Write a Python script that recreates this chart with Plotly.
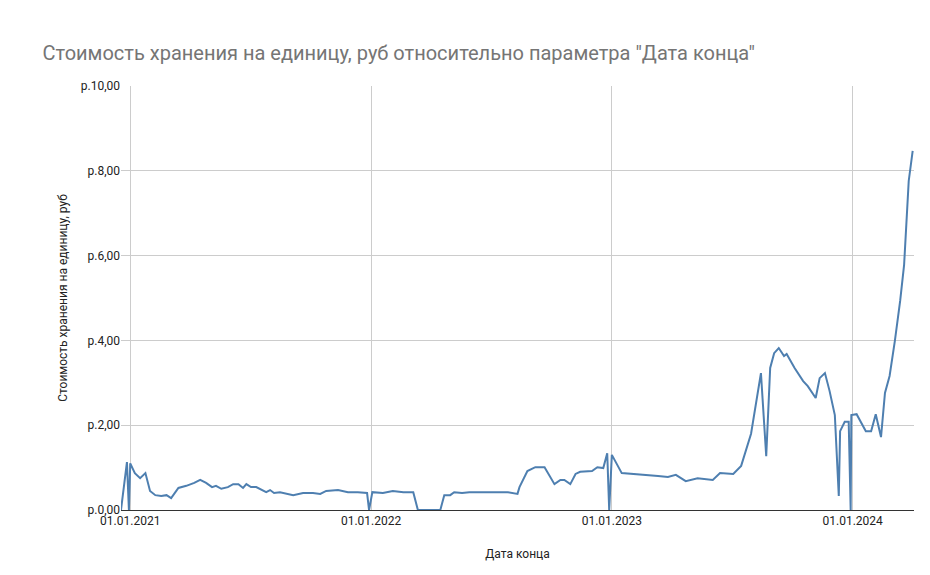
import plotly.graph_objects as go

dates = ["2020-12-18","2020-12-27","2020-12-30","2021-01-01","2021-01-08","2021-01-16","2021-01-24","2021-01-31",
"2021-02-08","2021-02-17","2021-02-25","2021-03-04","2021-03-15","2021-03-27","2021-04-08","2021-04-17","2021-04-26",
"2021-05-05","2021-05-11","2021-05-19","2021-05-29","2021-06-06","2021-06-14","2021-06-21","2021-06-26","2021-07-03",
"2021-07-11","2021-07-26","2021-08-01","2021-08-07","2021-08-16","2021-08-28","2021-09-05","2021-09-20","2021-10-05",
"2021-10-16","2021-10-25","2021-11-12","2021-11-27","2021-12-12","2021-12-20","2021-12-26","2021-12-29","2022-01-03",
"2022-01-19","2022-02-03","2022-02-19","2022-03-06","2022-03-13","2022-04-16","2022-04-22","2022-05-01","2022-05-07",
"2022-05-19","2022-05-30","2022-06-26","2022-07-27","2022-08-11","2022-08-14","2022-08-26","2022-09-07","2022-09-21",
"2022-10-06","2022-10-15","2022-10-21","2022-10-30","2022-11-07","2022-11-14","2022-12-02","2022-12-10","2022-12-19",
"2022-12-25","2022-12-28","2023-01-01","2023-01-16","2023-03-12","2023-03-27","2023-04-08","2023-04-23","2023-05-11",
"2023-06-03","2023-06-14","2023-07-04","2023-07-16","2023-07-23","2023-07-31","2023-08-15","2023-08-23","2023-08-29",
"2023-09-04","2023-09-11","2023-09-19","2023-09-23","2023-10-05","2023-10-18","2023-10-25","2023-11-06","2023-11-12",
"2023-11-20","2023-11-27","2023-12-05","2023-12-11","2023-12-13","2023-12-20","2023-12-26","2023-12-29","2023-12-30",
"2024-01-07","2024-01-21","2024-01-29","2024-02-05","2024-02-13","2024-02-19","2024-02-26","2024-03-05","2024-03-13",
"2024-03-19","2024-03-26","2024-04-01"]
values = [0,1.13,0,1.1,0.87,0.75,0.87,0.45,
0.35,0.33,0.35,0.28,0.52,0.57,0.64,0.71,0.64,
0.54,0.57,0.5,0.54,0.61,0.61,0.52,0.61,0.54,
0.54,0.42,0.47,0.4,0.42,0.38,0.35,0.4,0.4,
0.38,0.45,0.47,0.42,0.42,0.4,0.4,0,0.42,
0.4,0.45,0.42,0.42,0,0,0.35,0.35,0.42,
0.4,0.42,0.42,0.42,0.38,0.54,0.92,1.01,1.01,
0.61,0.71,0.71,0.61,0.85,0.9,0.92,1.01,0.99,
1.34,0,1.3,0.87,0.8,0.78,0.83,0.68,0.75,
0.71,0.87,0.85,1.04,1.39,1.8,3.23,1.27,3.35,
3.7,3.82,3.63,3.68,3.35,3.04,2.92,2.64,3.11,
3.23,2.81,2.24,0.33,1.86,2.08,2.08,0,2.24,
2.26,1.86,1.86,2.26,1.72,2.76,3.16,3.99,4.93,
5.78,7.76,8.47]

x_ticks = ["2021-01-01","2022-01-01","2023-01-01","2024-01-01"]
x_labels = ["01.01.2021","01.01.2022","01.01.2023","01.01.2024"]
y_ticks = [0,2,4,6,8,10]
y_labels = ["р.0,00","р.2,00","р.4,00","р.6,00","р.8,00","р.10,00"]

fig = go.Figure(go.Scatter(x=dates, y=values, mode="lines",
    line=dict(color="#4e7fb0", width=2)))
fig.update_layout(
    width=930, height=575, paper_bgcolor="white", plot_bgcolor="white",
    font=dict(family="Roboto, Arial", color="#222", size=12),
    margin=dict(l=113, r=24, t=78, b=73, autoexpand=False),
    title=dict(text='Стоимость хранения на единицу, руб относительно параметра "Дата конца"',
               x=0.037, xanchor="left", y=0.922, yanchor="middle",
               font=dict(size=20, color="#757575")),
    showlegend=False,
)
fig.update_xaxes(range=["2020-12-18","2024-04-03"], tickvals=x_ticks, ticktext=x_labels,
    showgrid=True, gridcolor="#cccccc", ticks="", tickfont=dict(size=12, color="#222"),
    ticklabelstandoff=2, automargin=False,
    title=dict(text="Дата конца", font=dict(size=12), standoff=22), showline=False, zeroline=False)
fig.update_yaxes(range=[0,10], tickvals=y_ticks, ticktext=y_labels, automargin=False,
    showgrid=True, gridcolor="#cccccc", zeroline=True, zerolinecolor="#333", zerolinewidth=1,
    tickfont=dict(size=12, color="#222"),
    title=dict(text="Стоимость хранения на единицу, руб", font=dict(size=12), standoff=10))
fig.write_html("out.html")
